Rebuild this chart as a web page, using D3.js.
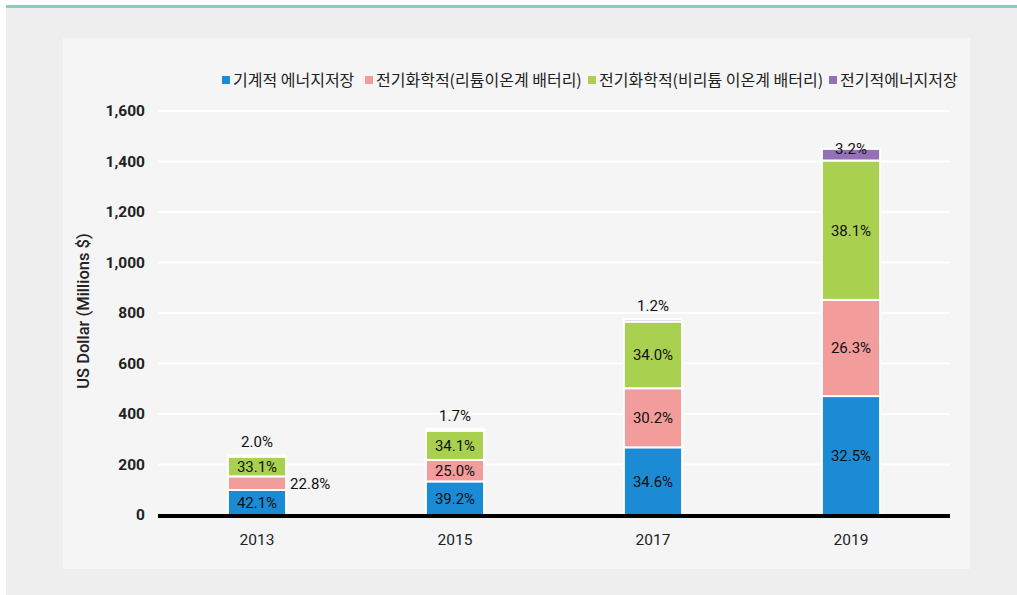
<!DOCTYPE html>
<html><head><meta charset="utf-8">
<script src="https://cdn.jsdelivr.net/npm/d3@7"></script>
<style>html,body{margin:0;padding:0;background:#fff;}svg{display:block;}</style>
</head><body>
<script>
const years = ["2013","2015","2017","2019"];
const seriesNames = ["기계적 에너지저장","전기화학적(리튬이온계 배터리)","전기화학적(비리튬 이온계 배터리)","전기적에너지저장"];
const mechanical = [99, 133, 268, 471];
const lithium = [54, 85, 234, 381];
const nonLithium = [78, 116, 264, 552];
const electrical = [5, 6, 9, 46];
const mechanicalPct = ["42.1%","39.2%","34.6%","32.5%"];
const lithiumPct = ["22.8%","25.0%","30.2%","26.3%"];
const nonLithiumPct = ["33.1%","34.1%","34.0%","38.1%"];
const electricalPct = ["2.0%","1.7%","1.2%","3.2%"];
const yTicks = [0,200,400,600,800,1000,1200,1400,1600];
const colors = ["#1c8bd5","#f29c9b","#a9d14f","#9470b5"];

const W=1017,H=595;
const svg=d3.select("body").append("svg").attr("width",W).attr("height",H);
svg.append("rect").attr("x",6).attr("y",5).attr("width",W-6).attr("height",H-5).attr("fill","#eeeeee");
svg.append("rect").attr("x",6).attr("y",5).attr("width",W-6).attr("height",3).attr("fill","#8ccbc0");
svg.append("rect").attr("x",63).attr("y",38).attr("width",907).attr("height",531).attr("fill","#f5f5f5");

const x=d3.scaleBand().domain(years).range([158,950]).paddingInner(0.706).paddingOuter(0.353);
const y=d3.scaleLinear().domain([0,1600]).range([515,111]);

const font="Roboto, 'Noto Sans', sans-serif";
// grid
svg.append("g").selectAll("line").data(yTicks.slice(1)).join("line")
 .attr("x1",158).attr("x2",950).attr("y1",d=>y(d)).attr("y2",d=>y(d))
 .attr("stroke","#ffffff").attr("stroke-width",2);

// y axis
const yAx=svg.append("g").attr("transform","translate(145,0)")
 .call(d3.axisLeft(y).tickValues(yTicks).tickSize(0).tickPadding(0).tickFormat(d3.format(",")));
yAx.select(".domain").remove();
yAx.selectAll("text").attr("font-family",font).attr("font-size",15.5).attr("font-weight",700).attr("fill","#222");

svg.append("text").attr("transform","translate(89,311) rotate(-90)").attr("text-anchor","middle")
 .attr("font-family",font).attr("font-size",16.5).attr("font-weight",500).attr("fill","#222").text("US Dollar (Millions $)");

// x axis
const xAx=svg.append("g").attr("transform","translate(0,517)")
 .call(d3.axisBottom(x).tickSize(0).tickPadding(17));
xAx.select(".domain").remove();
xAx.selectAll("text").attr("font-family",font).attr("font-size",15.5).attr("fill","#222");

// stacked data
const table=years.map((yr,i)=>({year:yr,s0:mechanical[i],s1:lithium[i],s2:nonLithium[i],s3:electrical[i]}));
const keys=["s0","s1","s2","s3"];
const stack=d3.stack().keys(keys)(table);
const pcts=[mechanicalPct,lithiumPct,nonLithiumPct,electricalPct];

stack.forEach((layer,k)=>{
  svg.append("g").selectAll("rect").data(layer).join("rect")
   .attr("x",d=>x(d.data.year)).attr("width",x.bandwidth())
   .attr("y",d=>y(d[1])).attr("height",d=>Math.max(0,y(d[0])-y(d[1])))
   .attr("fill",colors[k]).attr("stroke","#ffffff").attr("stroke-width",2);
});

// labels
stack.forEach((layer,k)=>{
  layer.forEach((d,i)=>{
    let lx=x(d.data.year)+x.bandwidth()/2, ly=(y(d[0])+y(d[1]))/2+5.5, anchor="middle";
    if(k===3){ ly = (i===3)? y(d[1])+5 : y(d[1])-8; }
    if(k===1 && i===0){ lx=x(d.data.year)+x.bandwidth()+4; anchor="start"; }
    svg.append("text").attr("x",lx).attr("y",ly).attr("text-anchor",anchor)
     .attr("font-family",font).attr("font-size",15).attr("fill","#111").text(pcts[k][i]);
  });
});

// zero line
svg.append("line").attr("x1",158).attr("x2",950).attr("y1",y(0)+1).attr("y2",y(0)+1)
 .attr("stroke","#000").attr("stroke-width",4);

// legend
const legX=[222,365,588,829];
const lg=svg.append("g");
seriesNames.forEach((n,i)=>{
  lg.append("rect").attr("x",legX[i]).attr("y",76).attr("width",8).attr("height",8).attr("fill",colors[i]);
  lg.append("text").attr("x",legX[i]+11).attr("y",86).attr("font-family","'Noto Sans CJK KR', sans-serif")
   .attr("font-size",16).attr("fill","#222").attr("letter-spacing",0).text(n);
});
</script>
</body></html>
